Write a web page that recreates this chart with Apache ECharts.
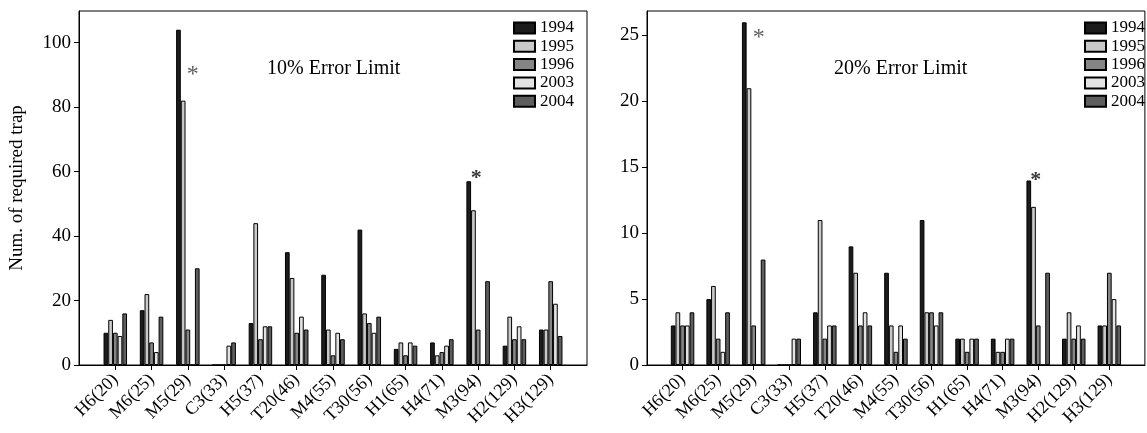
<!DOCTYPE html>
<html><head><meta charset="utf-8">
<script src="https://cdn.jsdelivr.net/npm/echarts@6/dist/echarts.min.js"></script>
<style>html,body{margin:0;padding:0;background:#fff}#c{width:1147px;height:433px}</style>
</head><body><div id="c"></div>
<script>
// ---------- data ----------
const categories = ['H6(20)','M6(25)','M5(29)','C3(33)','H5(37)','T20(46)','M4(55)','T30(56)','H1(65)','H4(71)','M3(94)','H2(129)','H3(129)'];
const years = ['1994','1995','1996','2003','2004'];

const err10_1994 = [10,17,104,0,13,35,28,42,5,7,57,6,11];
const err10_1995 = [14,22,82,0,44,27,11,16,7,3,48,15,11];
const err10_1996 = [10,7,11,0,8,10,3,13,3,4,11,8,26];
const err10_2003 = [9,4,0,6,12,15,10,10,7,6,0,12,19];
const err10_2004 = [16,15,30,7,12,11,8,15,6,8,26,8,9];

const err20_1994 = [3,5,26,0,4,9,7,11,2,2,14,2,3];
const err20_1995 = [4,6,21,0,11,7,3,4,2,1,12,4,3];
const err20_1996 = [3,2,3,0,2,3,1,4,1,1,3,2,7];
const err20_2003 = [3,1,0,2,3,4,3,3,2,2,0,3,5];
const err20_2004 = [4,4,8,2,3,3,2,4,2,2,7,2,3];

const yTicks10 = [0,20,40,60,80,100];
const yTicks20 = [0,5,10,15,20,25];
const starCategories = ['M5(29)','M3(94)'];
const panelTitles = ['10% Error Limit','20% Error Limit'];
const yAxisName = 'Num. of required trap';

// ---------- styles ----------
const FONT = 'Liberation Serif';
const yearColors = ['#1c1c1c','#c9c9c9','#858585','#e3e3e3','#5e5e5e'];
const starStyle = [
  {offset:[5,45], fontWeight:'normal', fontSize:24, color:'#333'},
  {offset:[-2,-3], fontWeight:'bold', fontSize:22, color:'#000'}
];
const starStyleR = [
  {offset:[5,15], fontWeight:'normal', fontSize:24, color:'#333'},
  {offset:[-2.5,-0.5], fontWeight:'bold', fontSize:22, color:'#000'}
];

const padded = arr => ['-', ...arr, '-'];
const xData = ['', ...categories, ''];

const panel10 = [err10_1994, err10_1995, err10_1996, err10_2003, err10_2004];
const panel20 = [err20_1994, err20_1995, err20_1996, err20_2003, err20_2004];

function bars(panel, axisIdx) {
  return panel.map((arr, i) => ({
    type: 'bar', name: years[i], xAxisIndex: axisIdx, yAxisIndex: axisIdx,
    data: padded(arr), barWidth: 4.7, barGap: '0%',
    itemStyle: {color: yearColors[i], borderColor: '#000', borderWidth: 1},
    emphasis: {disabled: true}, animation: false
  }));
}
function stars(base, axisIdx, styles) {
  return {
    type: 'scatter', xAxisIndex: axisIdx, yAxisIndex: axisIdx, symbolSize: 0,
    animation: false, silent: true,
    data: starCategories.map((c, k) => ({
      value: [c, base[categories.indexOf(c)]],
      label: {show: true, formatter: '*', position: 'inside', align: 'center', verticalAlign: 'middle',
        offset: styles[k].offset, fontSize: styles[k].fontSize, fontWeight: styles[k].fontWeight,
        fontFamily: FONT, color: styles[k].color}
    }))
  };
}
function xAxis(gi) {
  return {
    type: 'category', gridIndex: gi, data: xData, boundaryGap: false,
    axisLine: {lineStyle: {color: '#000', width: 1}},
    axisTick: {length: 5, lineStyle: {color: '#000'}, interval: (i, v) => v !== ''},
    axisLabel: {interval: 0, rotate: 45, margin: 12, fontSize: 18, fontFamily: FONT, color: '#000',
      formatter: v => v},
    splitLine: {show: false}
  };
}
function yAxis(gi, max, ticks, name) {
  return {
    type: 'value', gridIndex: gi, min: 0, max: max,
    name: name || '', nameLocation: 'middle', nameGap: 52,
    nameTextStyle: {fontSize: 19, fontFamily: FONT, color: '#000'},
    axisLine: {show: true, lineStyle: {color: '#000', width: 1}},
    axisTick: {show: true, length: 5, lineStyle: {color: '#000'}, customValues: ticks},
    axisLabel: {fontSize: 19, fontFamily: FONT, color: '#000', margin: 8, customValues: ticks},
    splitLine: {show: false}
  };
}
function legend(left) {
  return {
    data: years, orient: 'vertical', left: left, top: 19.5, padding: 0,
    itemWidth: 21, itemHeight: 11, itemGap: 1.3, icon: 'rect',
    textStyle: {fontSize: 17, lineHeight: 17, fontFamily: FONT, color: '#000'},
    selectedMode: false
  };
}

const chart = echarts.init(document.getElementById('c'), null, {renderer: 'canvas'});
chart.setOption({
  backgroundColor: '#fff',
  animation: false,
  title: [
    {text: panelTitles[0], left: 267, top: 59, padding: 0, textStyle: {fontSize: 20, fontWeight: 'normal', fontFamily: FONT, color: '#000'}},
    {text: panelTitles[1], left: 834, top: 59, padding: 0, textStyle: {fontSize: 20, fontWeight: 'normal', fontFamily: FONT, color: '#000'}}
  ],
  legend: [legend(513), legend(1084)],
  grid: [
    {left: 79, top: 11, width: 508, height: 354, show: true, borderColor: '#000', borderWidth: 1, backgroundColor: 'transparent'},
    {left: 647, top: 11, width: 507, height: 354, show: true, borderColor: '#000', borderWidth: 1, backgroundColor: 'transparent'}
  ],
  xAxis: [xAxis(0), xAxis(1)],
  yAxis: [yAxis(0, 109.8, yTicks10, yAxisName), yAxis(1, 26.86, yTicks20)],
  series: [
    ...bars(panel10, 0), ...bars(panel20, 1),
    stars(err10_1994, 0, starStyle), stars(err20_1994, 1, starStyleR)
  ]
});
</script>
</body></html>
